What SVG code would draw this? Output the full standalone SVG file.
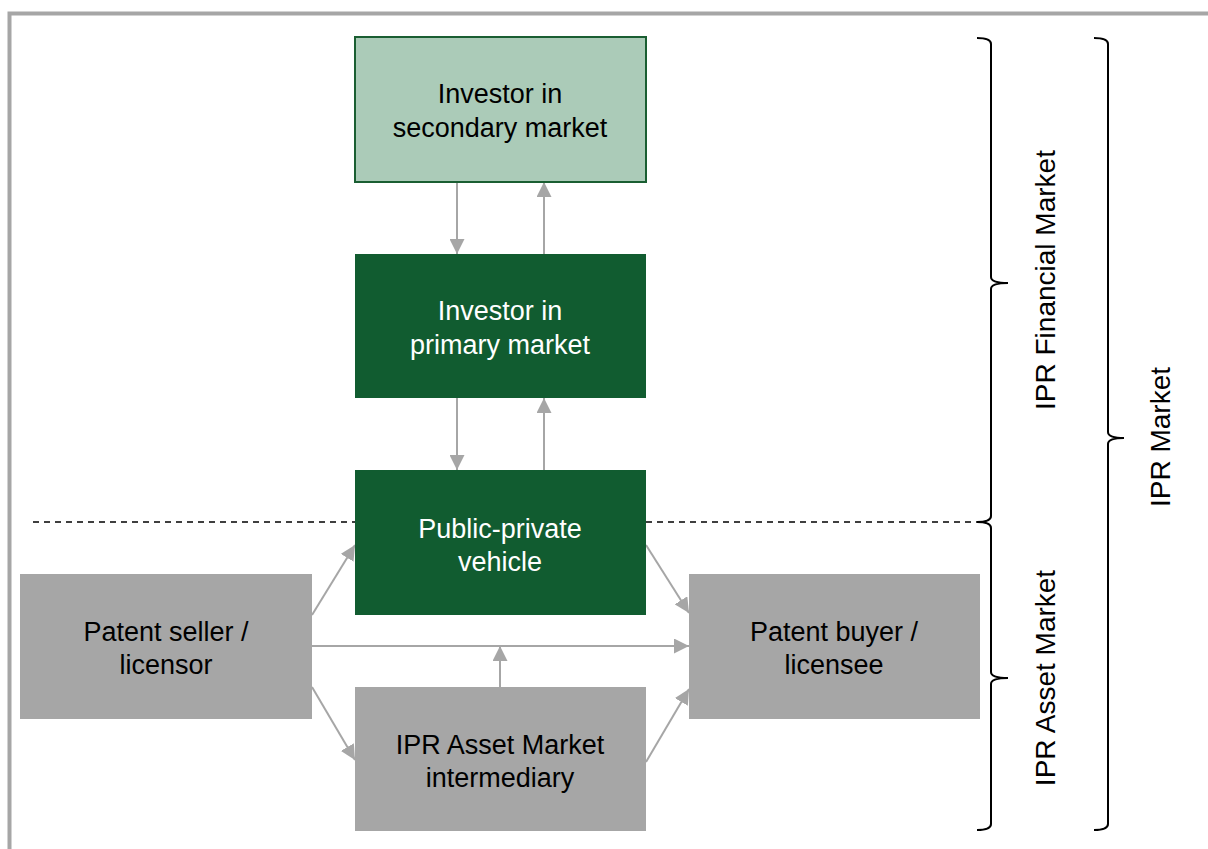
<svg xmlns="http://www.w3.org/2000/svg" width="1208" height="849" viewBox="0 0 1208 849">
<defs>
<style>
.t{font-family:"Liberation Sans",Arial,sans-serif;font-size:27px;text-anchor:middle}
.w{fill:#ffffff}
.b{fill:#000000}
.v{font-family:"Liberation Sans",Arial,sans-serif;font-size:28px;text-anchor:middle;fill:#000}
.br{stroke:#000;stroke-width:2;fill:none}
</style>
<marker id="ah2" viewBox="0 0 10 10" refX="10" refY="5" markerWidth="15" markerHeight="15" markerUnits="userSpaceOnUse" orient="auto">
<path d="M0,0 L10,5 L0,10 z" fill="#a6a6a6"/>
</marker>
</defs>
<rect x="0" y="0" width="1208" height="849" fill="#ffffff"/>
<path d="M9.5,849 V13.5 H1208" fill="none" stroke="#a6a6a6" stroke-width="4"/>

<g id="connectors">
<g stroke="#a6a6a6" stroke-width="2" fill="none" style="marker-end:url(#ah2)">
<line x1="457" y1="182" x2="457" y2="254"/>
<line x1="544" y1="254" x2="544" y2="182"/>
<line x1="457" y1="398" x2="457" y2="470"/>
<line x1="544" y1="470" x2="544" y2="398"/>
<line x1="312" y1="615" x2="355" y2="545"/>
<line x1="312" y1="687" x2="355" y2="760"/>
<line x1="312" y1="646" x2="689" y2="646"/>
<line x1="500" y1="687" x2="500" y2="646"/>
<line x1="646" y1="545" x2="689" y2="613"/>
<line x1="646" y1="762" x2="689" y2="689"/>
</g>
<line x1="33" y1="522" x2="355" y2="522" stroke="#000" stroke-width="1.5" stroke-dasharray="6,5"/>
<line x1="646" y1="522" x2="985" y2="522" stroke="#000" stroke-width="1.5" stroke-dasharray="6,5"/>
</g>

<g id="secondary">
<rect x="355" y="37" width="291" height="145" fill="#abcbb8" stroke="#1a5e32" stroke-width="2"/>
<text class="t b" x="500" y="103">Investor in</text>
<text class="t b" x="500" y="137">secondary market</text>
</g>
<g id="primary">
<rect x="355" y="254" width="291" height="144" fill="#115c30"/>
<text class="t w" x="500" y="320">Investor in</text>
<text class="t w" x="500" y="354">primary market</text>
</g>
<g id="ppv">
<rect x="355" y="470" width="291" height="145" fill="#115c30"/>
<text class="t w" x="500" y="538">Public-private</text>
<text class="t w" x="500" y="571">vehicle</text>
</g>
<g id="seller">
<rect x="20" y="574" width="292" height="145" fill="#a6a6a6"/>
<text class="t b" x="166" y="641">Patent seller /</text>
<text class="t b" x="166" y="674">licensor</text>
</g>
<g id="buyer">
<rect x="689" y="574" width="291" height="145" fill="#a6a6a6"/>
<text class="t b" x="834" y="641">Patent buyer /</text>
<text class="t b" x="834" y="674">licensee</text>
</g>
<g id="intermediary">
<rect x="355" y="687" width="291" height="144" fill="#a6a6a6"/>
<text class="t b" x="500" y="754">IPR Asset Market</text>
<text class="t b" x="500" y="787">intermediary</text>
</g>

<g id="braces">
<path class="br" d="M977,38 Q991,38 991,44 V277 Q991,283 1008,283 Q991,283 991,289 V516 Q991,522 977,522"/>
<path class="br" d="M977,522 Q991,522 991,528 V672 Q991,678 1008,678 Q991,678 991,684 V824 Q991,830 977,830"/>
<path class="br" d="M1094,38 Q1108,38 1108,44 V432 Q1108,438 1124,438 Q1108,438 1108,444 V824 Q1108,830 1094,830"/>
</g>
<g id="labels">
<text class="v" transform="translate(1055,280) rotate(-90)">IPR Financial Market</text>
<text class="v" transform="translate(1055,678) rotate(-90)">IPR Asset Market</text>
<text class="v" transform="translate(1170,437) rotate(-90)">IPR Market</text>
</g>
</svg>
